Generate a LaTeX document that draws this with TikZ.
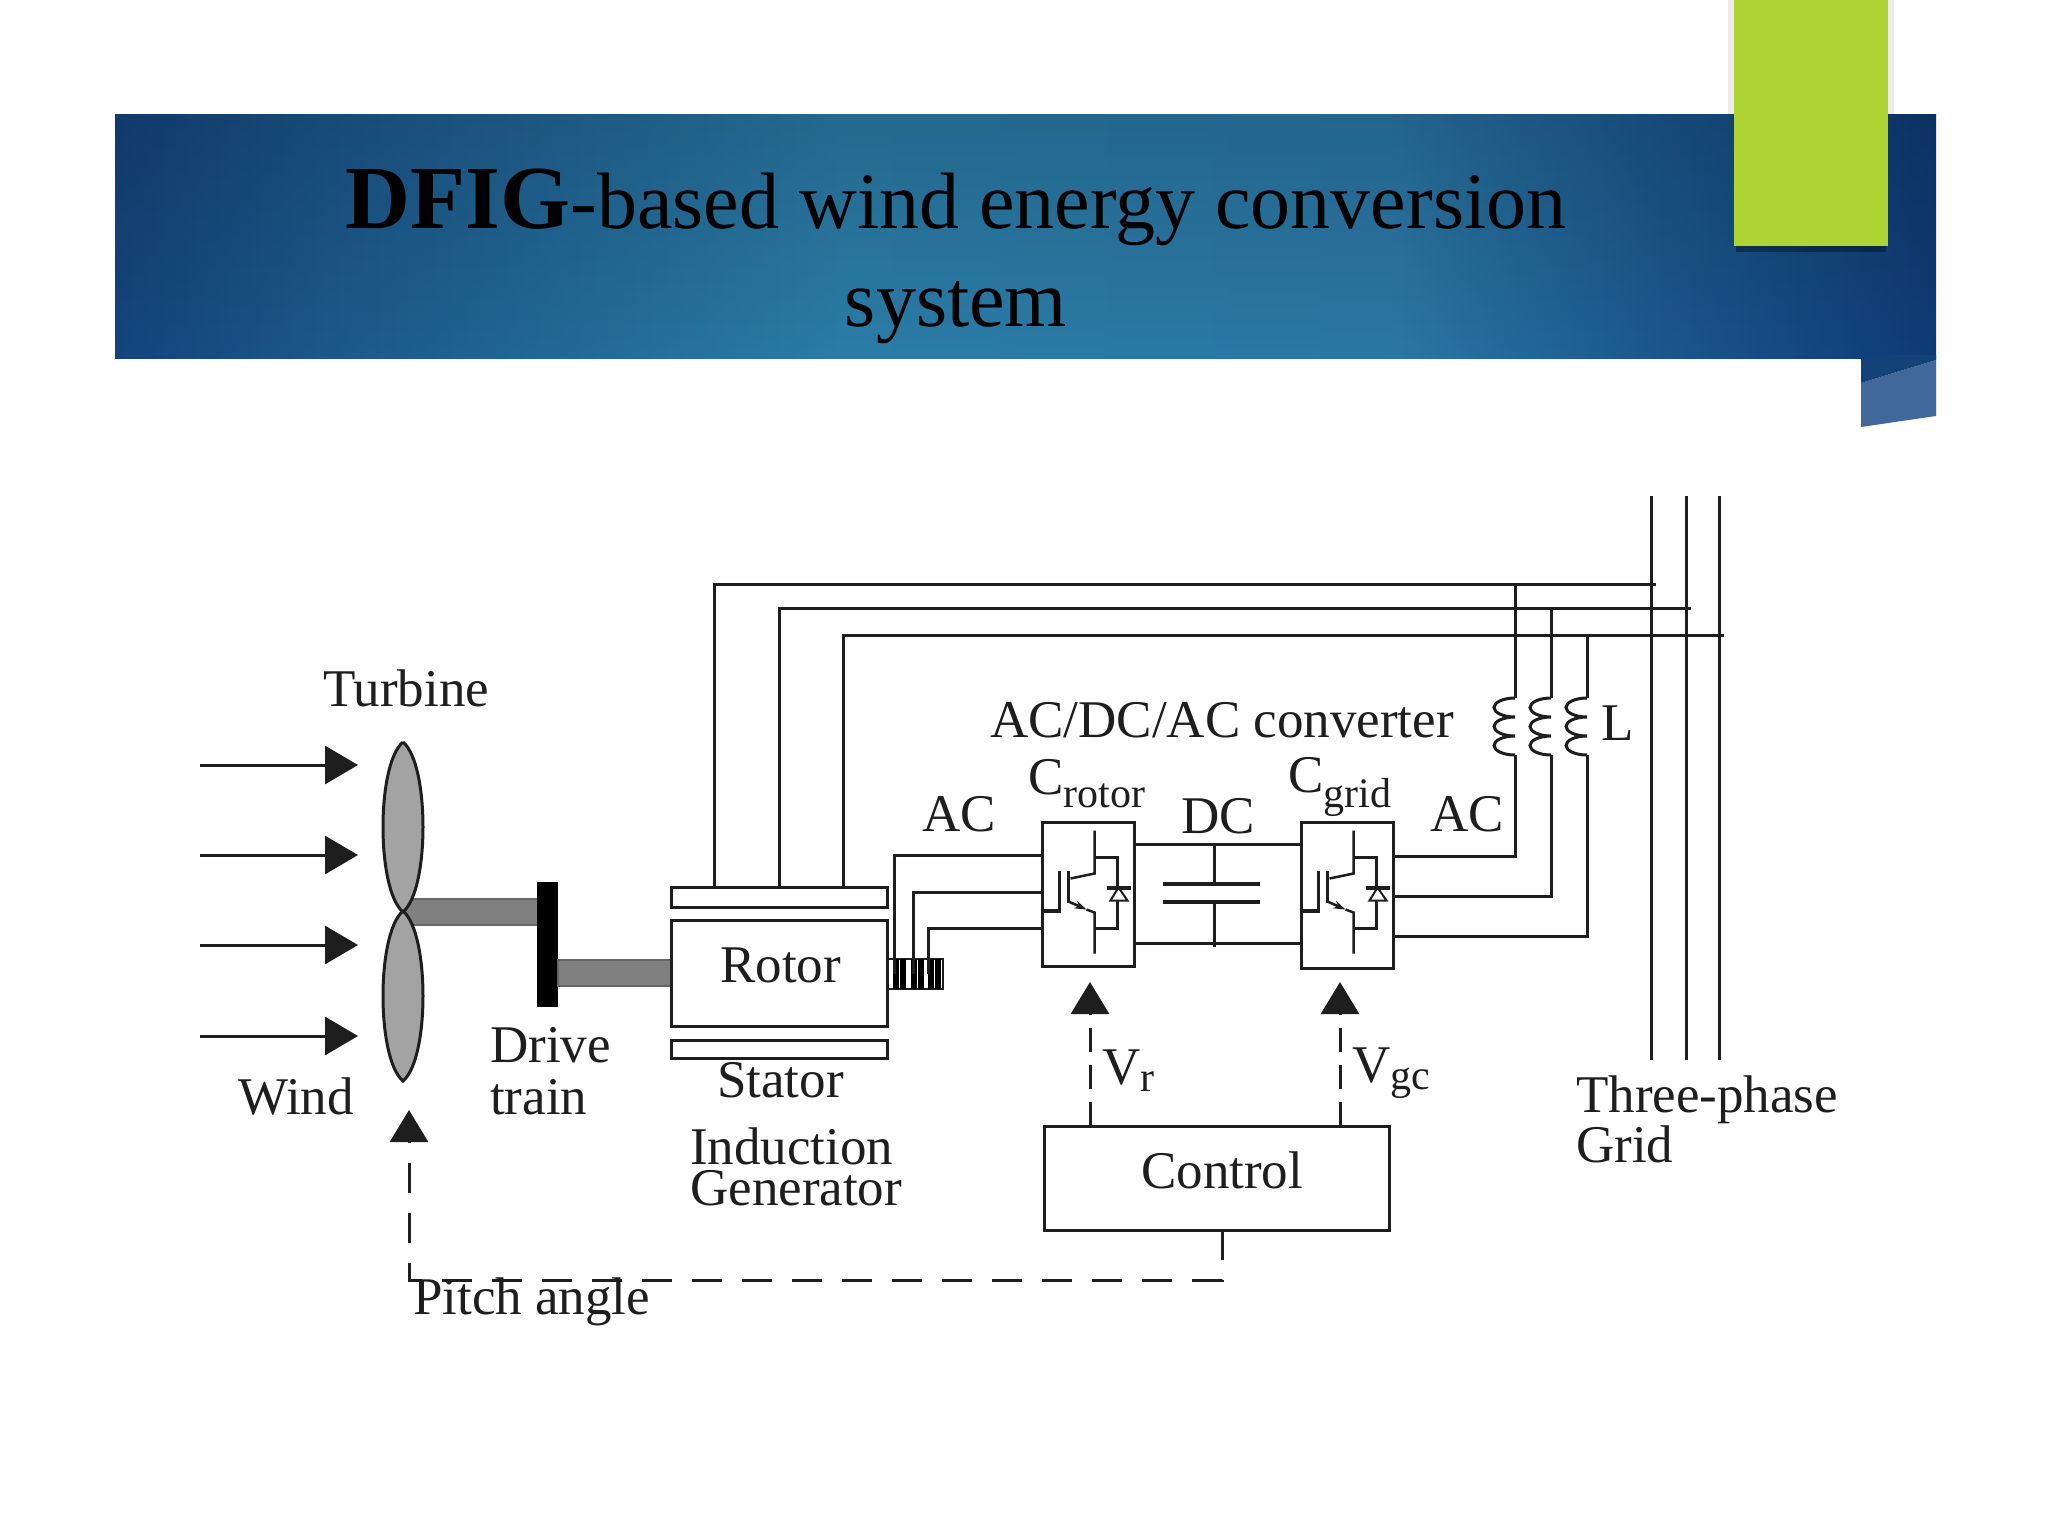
\documentclass[tikz,border=0pt]{standalone}
\usepackage{fontspec}
\setmainfont{Liberation Serif}
\usetikzlibrary{arrows.meta,fadings}
\definecolor{ink}{HTML}{1E1E1E}
\definecolor{leaf}{HTML}{AED433}
\definecolor{ribbon}{HTML}{134279}
\definecolor{ribbonlight}{HTML}{41689A}
\pgfdeclarehorizontalshading{bannershade}{100bp}{%
  rgb(0bp)=(0.08,0.27,0.49);
  rgb(25bp)=(0.08,0.27,0.49);
  rgb(31bp)=(0.11,0.35,0.55);
  rgb(45bp)=(0.17,0.49,0.66);
  rgb(60bp)=(0.17,0.47,0.65);
  rgb(67bp)=(0.11,0.35,0.56);
  rgb(75bp)=(0.06,0.23,0.46);
  rgb(100bp)=(0.06,0.23,0.46)}
\newcommand{\lowsub}[2][7]{\raisebox{-#1pt}{\fontsize{42}{42}\selectfont #2}}
\tikzset{
  lbl/.style={anchor=base west,inner sep=0pt,text=ink,font=\fontsize{53}{41}\selectfont,align=left},
  box/.style={draw=ink,line width=3pt,inner sep=0pt,minimum width=#1},
  wire/.style={draw=ink,line width=3pt},
  wind/.style={wire,-{Triangle[length=33pt,width=38pt]}},
  ctrl/.style={wire,dash pattern=on 24pt off 13pt,-{Triangle[length=32pt,width=38pt]}},
  shaft/.style={draw=black!60,line width=1.5pt,fill=black!50},
  blade/.pic={
    \draw[ink,line width=3pt,fill=black!36] (0,0)
      .. controls (-14,12) and (-20,50) .. (-20,85) .. controls (-20,120) and (-14,158) .. (0,170)
      .. controls (14,158) and (20,120) .. (20,85) .. controls (20,50) and (14,12) .. (0,0);
  },
  switch/.pic={
    \draw[ink,line width=2.5pt] (54,10) -- (54,53) -- (30,58);
    \draw[ink,line width=2.5pt] (19,50) -- (19,90) (28,50) -- (28,82);
    \draw[ink,line width=4pt] (0,90) -- (20,90);
    \draw[ink,line width=2.5pt,-{Stealth[length=12pt,width=8pt]}] (28,81) -- (46,89);
    \draw[ink,line width=2.5pt] (46,89) -- (54,92) -- (54,133);
    \draw[ink,line width=2.5pt] (54,37) -- (77,37) -- (77,67);
    \draw[ink,line width=4pt] (66,67) -- (90,67);
    \draw[ink,line width=2pt] (78,67) -- (70,80) -- (87,80) -- cycle;
    \draw[ink,line width=2.5pt] (77,80) -- (77,108) -- (54,108);
  },
  coil/.pic={
    \draw[ink,line width=3pt] (0,0)
      \foreach \bump in {1,2,3} { arc[start angle=270,end angle=90,x radius=21,y radius=9.5] };
  }
}
\begin{document}
\begin{tikzpicture}[x=1pt,y=-1pt]
  \useasboundingbox (0,0) rectangle (2048,1536);
  % header band
  \fill[ribbonlight] (1861,383) -- (1936,360) -- (1936,416) -- (1861,427) -- cycle;
  \shade[shading=bannershade] (115,115) rectangle (1936,358);
  \begin{scope}
    \clip (115,115) rectangle (1936,358);
    \fill[black,opacity=0.16,path fading=south] (95,108) rectangle (1956,365);
  \end{scope}
  \fill[ribbon] (1861,355) -- (1936,355) -- (1936,360) -- (1861,383) -- cycle;
  \fill[black,opacity=0.08] (1728,0) rectangle (1894,115);
  \fill[black,opacity=0.35] (1736,246) rectangle (1886,252);
  \fill[leaf] (1734,0) rectangle (1888,246);
  \node[anchor=base,inner sep=0pt,text=black,font=\fontsize{80}{80}\selectfont] (titleA) at (956,228)
    {{\fontsize{90}{90}\selectfont\bfseries DFIG}-based wind energy conversion};
  \node[anchor=base,inner sep=0pt,text=black,font=\fontsize{80}{80}\selectfont] (titleB) at (956,326) {system};

  % wind and turbine
  \foreach \i/\y in {1/765,2/855,3/945,4/1036} {
    \coordinate (wa\i) at (200,\y);
    \coordinate (wb\i) at (358,\y);
    \draw[wind] (wa\i) -- (wb\i);
  }
  \path[shaft] (403,899) rectangle (540,925);
  \pic at (403,742) {blade};
  \pic at (403,911) {blade};
  \fill[black] (537,882) rectangle (558,1007);
  \path[shaft] (558,960) rectangle (671,986);

  % generator
  \node[box=216pt,minimum height=106pt] (rotor) at (779,973) {};
  \node[box=216pt,minimum height=20pt] (statorA) at (779,897) {};
  \node[box=216pt,minimum height=18pt] (statorB) at (779,1049) {};
  \draw[ink,line width=2pt] (887,959) rectangle (943,989);
  \foreach \x in {896,903,914,921,931,938} \fill[black] (\x-3,959) rectangle (\x+3,989);

  % converter
  \node[box=92pt,minimum height=144pt] (Crotor) at (1088,894) {};
  \node[box=92pt,minimum height=146pt] (Cgrid) at (1347,895) {};
  \pic at (Crotor.north west) {switch};
  \pic at (Cgrid.north west) {switch};
  \coordinate (dcA) at (1214,844);
  \coordinate (dcB) at (1214,947);
  \coordinate (plateA) at (1214,884);
  \coordinate (plateB) at (1214,902);
  \draw[wire] (Crotor.east |- dcA) -- (Cgrid.west |- dcA);
  \draw[wire] (Crotor.east |- 0,943) -- (Cgrid.west |- 0,943);
  \draw[wire] (dcA) -- (plateA) (plateB) -- (dcB);
  \draw[ink,line width=4pt] (1163,884) -- (1260,884) (1163,902) -- (1260,902);

  % rotor side wires
  \foreach \i/\x/\y in {1/894/855,2/913/892,3/928/928} {
    \coordinate (sr\i) at (\x,974);
    \coordinate (cr\i) at (Crotor.west |- 0,\y);
    \draw[wire] (sr\i) |- (cr\i);
  }

  % grid, stator and filter wires
  \foreach \i/\x in {1/1651,2/1686,3/1719} {
    \coordinate (gt\i) at (\x,496);
    \coordinate (gb\i) at (\x,1060);
    \draw[wire] (gt\i) -- (gb\i);
  }
  \foreach \i/\x/\y/\e in {1/714/584/1656,2/779/608/1691,3/843/635/1724} {
    \coordinate (sa\i) at (\x,887);
    \coordinate (se\i) at (\e,\y);
    \draw[wire] (sa\i) |- (se\i);
  }
  \foreach \i/\x/\y/\t in {1/1515/856/584,2/1551/896/608,3/1587/936/635} {
    \pic at (\x,698) {coil};
    \coordinate (lt\i) at (\x,698);
    \coordinate (lb\i) at (\x,755);
    \coordinate (bus\i) at (\x,\t);
    \coordinate (gc\i) at (Cgrid.east |- 0,\y);
    \draw[wire] (gc\i) -| (lb\i);
    \draw[wire] (lt\i) -- (bus\i);
  }

  % control
  \node[box=345pt,minimum height=104pt] (control) at (1217,1178) {};
  \coordinate (vrA) at (1090,1126);
  \coordinate (vrB) at (1090,982);
  \coordinate (vgA) at (1340,1126);
  \coordinate (vgB) at (1340,982);
  \draw[ctrl] (vrA) -- (vrB);
  \draw[ctrl] (vgA) -- (vgB);
  \coordinate (pitchA) at (1222,1230);
  \coordinate (pitchB) at (1222,1280);
  \coordinate (pitchC) at (409,1280);
  \coordinate (pitchD) at (409,1110);
  \draw[ctrl,dash pattern=on 30pt off 20pt] (pitchA) -- (pitchB) -- (pitchC) -- (pitchD);

  % labels
  \node[lbl] (turbine) at (323,706) {Turbine};
  \node[lbl] (windtxt) at (238,1114) {Wind};
  \node[lbl,font=\fontsize{53}{52}\selectfont] (drive) at (490,1114) {Drive\\train};
  \node[lbl] (rotortxt) at (720,982) {Rotor};
  \node[lbl] (statortxt) at (717,1097) {Stator};
  \node[lbl] (induction) at (690,1205) {Induction\\Generator};
  \node[lbl] (pitchtxt) at (413,1314) {Pitch angle};
  \node[lbl] (acA) at (922,831) {AC};
  \node[lbl] (acB) at (1430,831) {AC};
  \node[lbl] (dctxt) at (1181,833) {DC};
  \node[lbl] (crotortxt) at (1028,794) {C\lowsub[13]{rotor}};
  \node[lbl] (cgridtxt) at (1288,792) {C\lowsub[15]{grid}};
  \node[lbl] (vrtxt) at (1102,1084) {V\lowsub{r}};
  \node[lbl] (vgctxt) at (1352,1082) {V\lowsub{gc}};
  \node[lbl] (controltxt) at (1141,1188) {Control};
  \node[lbl] (convtxt) at (990,737) {AC/DC/AC converter};
  \node[lbl] (ltxt) at (1601,740) {L};
  \node[lbl] (threephase) at (1576,1162) {Three-phase\\Grid};
\end{tikzpicture}
\end{document}
